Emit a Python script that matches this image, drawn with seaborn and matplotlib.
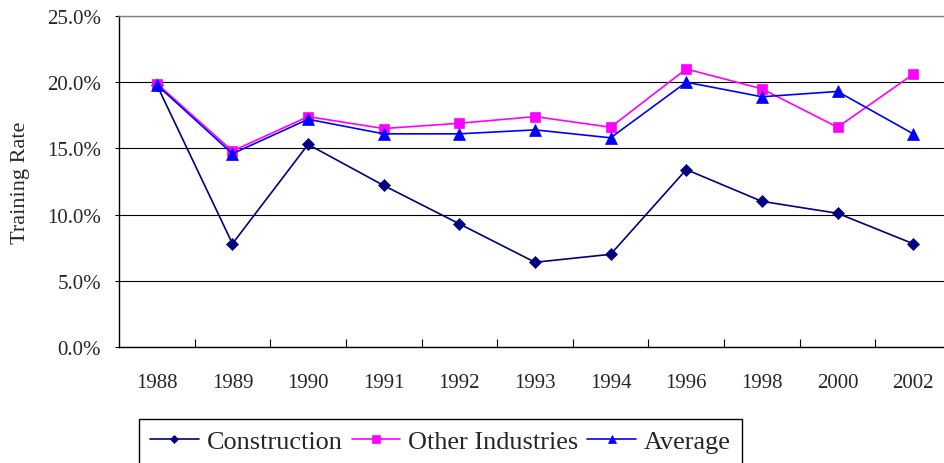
import numpy as np
import pandas as pd
import matplotlib
matplotlib.use("Agg")
import matplotlib.pyplot as plt
from matplotlib.ticker import FixedLocator, PercentFormatter
import seaborn as sns

# data (training rate, %)
years = ["1988", "1989", "1990", "1991", "1992", "1993", "1994", "1996", "1998", "2000", "2002"]
construction = [19.8, 7.8, 15.3, 12.2, 9.3, 6.4, 7.0, 13.4, 11.0, 10.1, 7.8]
other_industries = [19.9, 14.8, 17.4, 16.5, 16.9, 17.4, 16.6, 21.0, 19.5, 16.6, 20.6]
average = [19.8, 14.6, 17.2, 16.1, 16.1, 16.4, 15.8, 20.0, 18.9, 19.3, 16.1]

series_names = ["Construction", "Other Industries", "Average"]
series_colors = ["#000080", "#FF00FF", "#0000FF"]
series_markers = ["D", "s", "^"]
marker_sizes = [5.8, 7, 8.5]

df = pd.DataFrame({
    "year": years * 3,
    "pos": list(range(len(years))) * 3,
    "series": np.repeat(series_names, len(years)),
    "rate": np.array(construction + other_industries + average) / 100,
})

sns.set_theme(style="white")
plt.rcParams["font.family"] = ["Liberation Serif", "DejaVu Serif"]

fig = plt.figure(figsize=(9.44, 4.64), dpi=100)
# plot area runs a little past the right edge, as in the original
ax = fig.add_axes([119 / 944, 1 - 348 / 464, (951 - 119) / 944, (348 - 17) / 464])

for name, color, marker, ms in zip(series_names, series_colors, series_markers, marker_sizes):
    sub = df[df["series"] == name]
    sns.lineplot(data=sub, x="pos", y="rate", ax=ax, color=color, marker=marker,
                 markersize=ms, markeredgecolor=color, markeredgewidth=0.5,
                 linewidth=1.2, label=name, legend=False)

ax.set_xlim(-0.5, len(years) - 0.5)
ax.set_ylim(0, 0.25)
ax.set_yticks(np.arange(0, 0.251, 0.05))
ax.yaxis.set_major_formatter(PercentFormatter(1.0, decimals=1))
ax.set_xticks(range(len(years)))
ax.set_xticklabels(years)
ax.xaxis.set_minor_locator(FixedLocator(np.arange(0.5, len(years) - 0.5, 1)))

ax.grid(axis="y", color="black", linewidth=0.8)
ax.grid(axis="x", visible=False)
ax.set_axisbelow(True)

ax.tick_params(axis="x", which="major", length=0, pad=19, labelsize=15)
ax.tick_params(axis="x", which="minor", direction="in", length=6, width=0.8, color="black", bottom=True)
ax.tick_params(axis="y", which="major", direction="out", length=3, width=0.8, color="black",
               pad=10, labelsize=15, left=True)

for side in ["left", "bottom"]:
    ax.spines[side].set_color("black")
    ax.spines[side].set_linewidth(1.0)
ax.spines["top"].set_color("#808080")
ax.spines["top"].set_linewidth(1.0)
ax.spines["right"].set_visible(False)

ax.set_xlabel("")
ax.set_ylabel("Training Rate", fontsize=16, labelpad=12)

handles, labels = ax.get_legend_handles_labels()
leg = fig.legend(handles, labels, loc="upper left", bbox_to_anchor=(139 / 944, 1 - 420 / 464),
                 ncol=3, fontsize=18.9, frameon=True, fancybox=False, framealpha=1,
                 edgecolor="black", handlelength=1.85, handletextpad=0.3,
                 columnspacing=0.35, borderpad=0.42, borderaxespad=0, markerscale=0.75)
leg.get_frame().set_linewidth(1.0)

fig.savefig("out.png", dpi=100)
